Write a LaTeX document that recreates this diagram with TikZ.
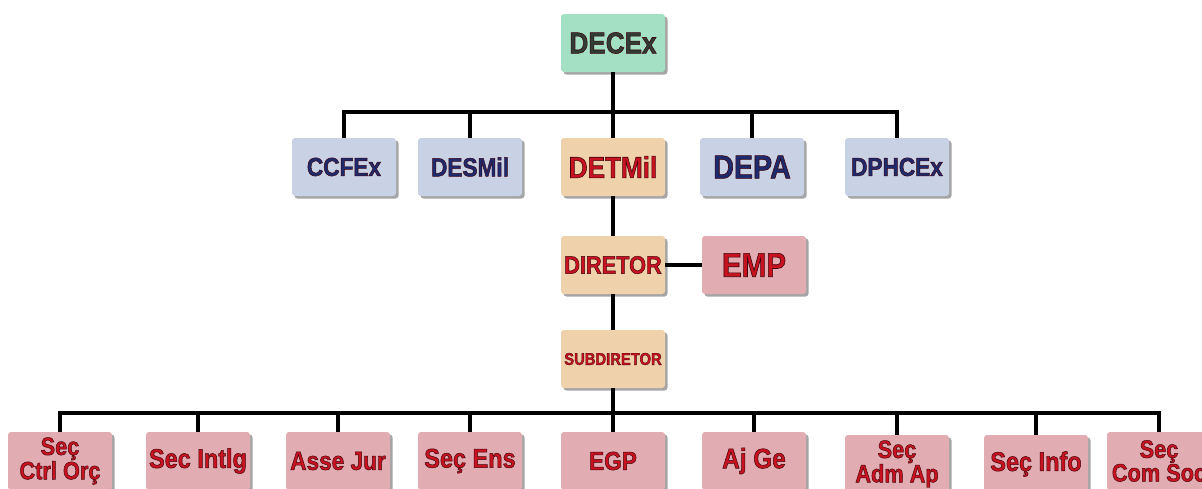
\documentclass[tikz,border=0pt]{standalone}
\usepackage{fontspec}
\setmainfont{Liberation Sans}
\newfontfamily\unitfont{Liberation Sans}[BoldFeatures={FakeBold=1.8, FakeStretch=0.87}]
\usetikzlibrary{shadows}

\definecolor{mintbox}{RGB}{163,224,196}
\definecolor{bluebox}{RGB}{201,209,229}
\definecolor{tanbox}{RGB}{239,209,171}
\definecolor{pinkbox}{RGB}{225,173,179}
\definecolor{navytext}{RGB}{30,42,110}
\definecolor{redtext}{RGB}{200,18,32}
\definecolor{graytext}{RGB}{48,60,54}

% darker rim on the lettering
\newcommand\rim{\special{pdf:literal direct 0.25 0.02 0.05 RG}}

\begin{document}
\begin{tikzpicture}[x=1pt, y=-1pt,
    unit/.style={rounded corners=3pt, minimum width=104pt, minimum height=58pt,
        inner sep=1pt, align=center,
        drop shadow={shadow xshift=2.5pt, shadow yshift=-2.5pt, fill=black!70}},
    headunit/.style={unit, fill=mintbox, text=graytext},
    peerunit/.style={unit, fill=bluebox, text=navytext},
    lineunit/.style={unit, fill=tanbox, text=redtext},
    staffunit/.style={unit, fill=pinkbox, text=redtext},
    fsz/.style={font=\unitfont\bfseries\fontsize{#1}{#1}\selectfont},
    twolines/.style={font=\unitfont\bfseries\fontsize{25}{22}\selectfont},
    link/.style={draw=black, line width=3.8pt}]

    \useasboundingbox (0,0) rectangle (1202,488);
    \clip (0,0) rectangle (1202,488);

    \node [headunit, fsz=30] (decex) at (613,43) {\rim DECEx};

    \node [peerunit, fsz=26] (ccfex) at (344,167) {\rim CCFEx};
    \node [peerunit, fsz=26] (desmil) at (470,167) {\rim DESMil};
    \node [lineunit, fsz=30] (detmil) at (613,167) {\rim DETMil};
    \node [peerunit, fsz=33] (depa) at (752,167) {\rim DEPA};
    \node [peerunit, fsz=26] (dphcex) at (897,167) {\rim DPHCEx};

    \node [lineunit, fsz=25] (diretor) at (613,265) {\rim DIRETOR};
    \node [staffunit, fsz=34] (emp) at (754,265) {\rim EMP};
    \node [lineunit, fsz=17] (subdir) at (613,359) {\rim SUBDIRETOR};

    \node [staffunit, twolines] (ctrl) at (60,461) {\rim Seç\\\rim Ctrl Orç};
    \node [staffunit, fsz=27] (intlg) at (198,461) {\rim Sec Intlg};
    \node [staffunit, fsz=26] (jur) at (338,461) {\rim Asse Jur};
    \node [staffunit, fsz=27] (ens) at (470,461) {\rim Seç Ens};
    \node [staffunit, fsz=26] (egp) at (613,461) {\rim EGP};
    \node [staffunit, fsz=28] (ajge) at (754,461) {\rim Aj Ge};
    \node [staffunit, twolines] (admap) at (897,464) {\rim Seç\\\rim Adm Ap};
    \node [staffunit, fsz=27] (info) at (1036,464) {\rim Seç Info};
    \node [staffunit, twolines] (comsoc) at (1159,461) {\rim Seç\\\rim Com Soc};

    \coordinate (topbar) at (613,112);
    \coordinate (lowbar) at (613,413);

    % upper level
    \draw [link] (decex.south) -- (detmil.north);
    \draw [link] (ccfex.north) |- (topbar) -| (dphcex.north);
    \draw [link] (desmil.north) -- (desmil.north |- topbar);
    \draw [link] (depa.north) -- (depa.north |- topbar);

    % DETMil branch
    \draw [link] (detmil.south) -- (diretor.north);
    \draw [link] (diretor.east) -- (emp.west);
    \draw [link] (diretor.south) -- (subdir.north);
    \draw [link] (subdir.south) -- (lowbar);

    % sections
    \draw [link] (ctrl.north) |- (lowbar) -| (comsoc.north);
    \foreach \n in {intlg, jur, ens, egp, ajge, admap, info}
        \draw [link] (\n.north) -- (\n.north |- lowbar);

\end{tikzpicture}
\end{document}
